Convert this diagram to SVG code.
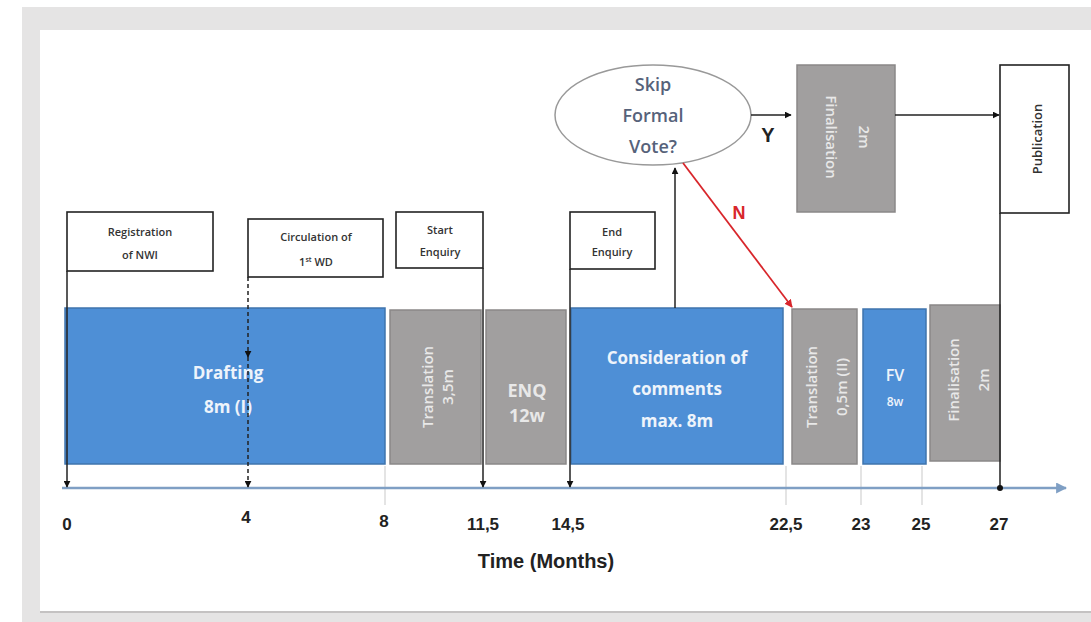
<svg xmlns="http://www.w3.org/2000/svg" width="1091" height="622" viewBox="0 0 1091 622">
<defs>
<marker id="arr" viewBox="0 0 10 10" refX="9" refY="5" markerWidth="7" markerHeight="7" markerUnits="userSpaceOnUse" orient="auto"><path d="M0,0 L10,5 L0,10 z" fill="#111"/></marker>
<marker id="arrR" viewBox="0 0 10 10" refX="9" refY="5" markerWidth="8" markerHeight="8" markerUnits="userSpaceOnUse" orient="auto"><path d="M0,0 L10,5 L0,10 z" fill="#d8262b"/></marker>
<marker id="arrAx" viewBox="0 0 10 10" refX="9" refY="5" markerWidth="11" markerHeight="11" markerUnits="userSpaceOnUse" orient="auto"><path d="M0,0 L10,5 L0,10 z" fill="#7f9fc4"/></marker>
<marker id="dot" viewBox="0 0 10 10" refX="5" refY="5" markerWidth="6" markerHeight="6" markerUnits="userSpaceOnUse"><circle cx="5" cy="5" r="5" fill="#111"/></marker>
</defs>
<style>
.blue{fill:#4e8fd6;stroke:#3f74ad;stroke-width:1.5}
.gray{fill:#a19f9f;stroke:#8a8888;stroke-width:1.5}
.lbl{fill:#fff;stroke:#222;stroke-width:1.6}
.lt{font-family:"Open Sans","Liberation Sans",sans-serif;font-size:11px;font-weight:600;fill:#333;text-anchor:middle}
.wt{font-family:"Open Sans","Liberation Sans",sans-serif;font-size:17px;font-weight:700;fill:#eef4fb;text-anchor:middle}
.gt{font-family:"Open Sans","Liberation Sans",sans-serif;font-size:15px;font-weight:600;fill:#e8e8e8;text-anchor:middle}
.num{font-family:"Liberation Sans","Open Sans",sans-serif;font-size:17px;font-weight:700;fill:#222;text-anchor:middle}
.et{font-family:"Open Sans","Liberation Sans",sans-serif;font-size:18px;font-weight:600;fill:#56627a;text-anchor:middle}
.con{stroke:#222;stroke-width:1.5;fill:none}
.tick{stroke:#c9c9c9;stroke-width:1;fill:none}
</style>
<rect x="0" y="0" width="1091" height="622" fill="#fff"/>
<rect x="22" y="7" width="1069" height="615" fill="#e5e4e4"/>
<rect x="40" y="30" width="1051" height="581" fill="#fff"/>
<line x1="40" y1="612" x2="1091" y2="612" stroke="#c4c2c2" stroke-width="2"/>

<g id="ticks">
<line class="tick" x1="385" y1="466" x2="385" y2="505"/>
<line class="tick" x1="786" y1="466" x2="786" y2="505"/>
<line class="tick" x1="861" y1="466" x2="861" y2="505"/>
<line class="tick" x1="922" y1="466" x2="922" y2="505"/>
</g>

<g id="drafting"><rect class="blue" x="65" y="308" width="320" height="156"/>
<text class="wt" x="228" y="379">Drafting</text><text class="wt" x="228" y="413">8m (I)</text></g>

<g id="translation1"><rect class="gray" x="390" y="310" width="91" height="154"/>
<text class="gt" transform="translate(428,387) rotate(-90)" y="5">Translation</text>
<text class="gt" transform="translate(448,387) rotate(-90)" y="5">3,5m</text></g>

<g id="enq"><rect class="gray" x="486" y="310" width="80" height="154"/>
<text class="gt" x="527" y="397" style="font-size:18px;font-weight:700">ENQ</text><text class="gt" x="527" y="422" style="font-size:18px;font-weight:700">12w</text></g>

<g id="consideration"><rect class="blue" x="571" y="308" width="212" height="156"/>
<text class="wt" x="677" y="364">Consideration of</text>
<text class="wt" x="677" y="395">comments</text>
<text class="wt" x="677" y="427">max. 8m</text></g>

<g id="translation2"><rect class="gray" x="792" y="309" width="65" height="155"/>
<text class="gt" transform="translate(812,387) rotate(-90)" y="5">Translation</text>
<text class="gt" transform="translate(842,387) rotate(-90)" y="5">0,5m (II)</text></g>

<g id="fv"><rect class="blue" x="863" y="309" width="63" height="155"/>
<text class="wt" x="895" y="381" style="font-size:16px;font-weight:600">FV</text>
<text class="wt" x="895" y="406" style="font-size:12px;font-weight:600">8w</text></g>

<g id="finalisation2"><rect class="gray" x="930" y="305" width="70" height="156"/>
<text class="gt" transform="translate(953,380) rotate(-90)" y="6">Finalisation</text>
<text class="gt" transform="translate(983,380) rotate(-90)" y="6">2m</text></g>

<g id="finalisation1"><rect class="gray" x="797" y="65" width="98" height="147"/>
<text class="gt" transform="translate(831,137) rotate(90)" y="5">Finalisation</text>
<text class="gt" transform="translate(864,137) rotate(90)" y="5">2m</text></g>

<g id="publication"><rect class="lbl" x="1000" y="65" width="69" height="148"/>
<text class="lt" style="font-size:13px" transform="translate(1038,139) rotate(-90)" y="4">Publication</text></g>

<g id="skip"><ellipse cx="653" cy="115" rx="98" ry="50" fill="#fff" stroke="#999" stroke-width="1.5"/>
<text class="et" x="653" y="91">Skip</text>
<text class="et" x="653" y="122">Formal</text>
<text class="et" x="653" y="153">Vote?</text></g>

<g id="registration"><rect class="lbl" x="67" y="212" width="146" height="59"/>
<text class="lt" x="140" y="236">Registration</text><text class="lt" x="140" y="259">of NWI</text></g>

<g id="circulation"><rect class="lbl" x="248" y="219" width="135" height="58"/>
<text class="lt" x="316" y="241">Circulation of</text><text class="lt" x="316" y="266">1<tspan style="font-size:7px" dy="-4">st</tspan><tspan dy="4"> WD</tspan></text></g>

<g id="startenq"><rect class="lbl" x="396" y="212" width="87" height="56"/>
<text class="lt" x="440" y="234">Start</text><text class="lt" x="440" y="256">Enquiry</text></g>

<g id="endenq"><rect class="lbl" x="570" y="212" width="85" height="57"/>
<text class="lt" x="612" y="236">End</text><text class="lt" x="612" y="256">Enquiry</text></g>

<g id="connectors">
<line x1="62" y1="488" x2="1066" y2="488" stroke="#7f9fc4" stroke-width="2.5" marker-end="url(#arrAx)"/>
<line class="con" x1="67" y1="271" x2="67" y2="487" marker-end="url(#arr)"/>
<line class="con" x1="248" y1="277" x2="248" y2="357" stroke-dasharray="4,3" marker-end="url(#arr)"/>
<line class="con" x1="248" y1="357" x2="248" y2="487" stroke-dasharray="4,3" marker-end="url(#arr)"/>
<line class="con" x1="483" y1="268" x2="483" y2="487" marker-end="url(#arr)"/>
<line class="con" x1="570" y1="269" x2="570" y2="487" marker-end="url(#arr)"/>
<line class="con" x1="1000" y1="213" x2="1000" y2="488" marker-end="url(#dot)"/>
<line class="con" x1="675" y1="308" x2="675" y2="168" marker-end="url(#arr)"/>
<line class="con" x1="751" y1="115" x2="791" y2="115" marker-end="url(#arr)"/>
<line class="con" x1="895" y1="115" x2="999" y2="115" marker-end="url(#arr)"/>
<line x1="683" y1="163" x2="792" y2="307" stroke="#d8262b" stroke-width="1.8" marker-end="url(#arrR)"/>
<text x="768" y="142" font-family="'Liberation Sans',sans-serif" font-size="20" font-weight="700" fill="#222" text-anchor="middle">Y</text>
<text x="739" y="219" font-family="'Liberation Sans',sans-serif" font-size="18" font-weight="700" fill="#d8262b" text-anchor="middle">N</text>
</g>

<g id="axis-labels">
<text class="num" x="67" y="530">0</text>
<text class="num" x="246" y="523">4</text>
<text class="num" x="384" y="527">8</text>
<text class="num" x="483" y="530">11,5</text>
<text class="num" x="568" y="530">14,5</text>
<text class="num" x="786" y="530">22,5</text>
<text class="num" x="861" y="530">23</text>
<text class="num" x="921" y="530">25</text>
<text class="num" x="999" y="530">27</text>
<text class="num" x="546" y="568" style="font-size:20px">Time (Months)</text>
</g>
</svg>
